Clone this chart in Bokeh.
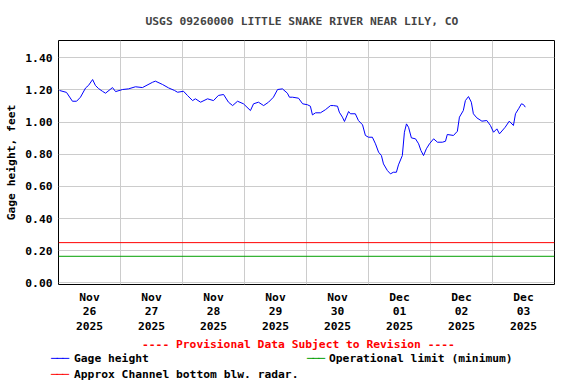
import pandas as pd
from bokeh.plotting import figure
from bokeh.layouts import column
from bokeh.models import (Range1d, FixedTicker, NumeralTickFormatter, DatetimeTickFormatter, Div)
from bokeh.embed import file_html
from bokeh.resources import INLINE

# ---- data ----
title_text = "USGS 09260000 LITTLE SNAKE RIVER NEAR LILY, CO"
start_time = "2025-11-26 00:00"
end_time = "2025-12-04 00:00"
hours = [0.4, 3.1, 5.4, 7.0, 8.5, 10.5, 11.6, 13.2, 14.3, 15.5, 17.0, 18.2, 20.9, 22.1,
         24.8, 27.1, 29.8, 32.5, 36.4, 37.5, 40.3, 42.6, 44.9, 46.1, 48.4, 49.9, 51.9,
         53.0, 55.0, 57.7, 60.0, 61.9, 63.9, 65.8, 67.4, 69.3, 71.6, 74.3, 75.5, 77.4,
         79.4, 81.3, 83.2, 84.8, 86.7, 88.6, 89.4, 90.6, 92.9, 94.5, 96.4, 97.5, 98.3,
         99.5, 101.4, 103.3, 105.3, 106.4, 108.0, 108.7, 109.9, 110.7, 112.3, 113.0,
         114.9, 116.1, 117.7, 118.8, 120.0, 121.5, 122.7, 123.9, 125.0, 125.8, 127.3,
         128.5, 129.6, 130.8, 131.6, 133.1, 133.9, 134.7, 135.5, 136.6, 138.2, 139.4,
         140.3, 141.3, 142.4, 143.6, 145.2, 146.7, 148.6, 149.8, 150.5, 152.9, 154.4,
         155.2, 156.7, 157.5, 158.7, 159.8, 160.6, 161.9, 163.9, 165.8, 167.2, 168.4,
         169.7, 170.7, 172.9, 174.5, 176.1, 176.9, 178.1, 179.2, 180.0, 180.7]
gage_height = [1.197, 1.185, 1.13, 1.13, 1.155, 1.213, 1.228, 1.265, 1.228, 1.209, 1.192,
               1.18, 1.215, 1.19, 1.203, 1.207, 1.22, 1.215, 1.248, 1.255, 1.234, 1.213,
               1.197, 1.186, 1.192, 1.166, 1.134, 1.145, 1.124, 1.145, 1.134, 1.166, 1.172,
               1.124, 1.103, 1.13, 1.114, 1.072, 1.114, 1.124, 1.103, 1.124, 1.155, 1.203,
               1.207, 1.18, 1.155, 1.155, 1.149, 1.114, 1.108, 1.099, 1.045, 1.058, 1.058,
               1.077, 1.103, 1.103, 1.099, 1.062, 1.031, 1.004, 1.066, 1.052, 1.052, 1.01,
               0.983, 0.917, 0.906, 0.906, 0.865, 0.813, 0.792, 0.74, 0.699, 0.678, 0.688,
               0.688, 0.734, 0.792, 0.937, 0.989, 0.968, 0.902, 0.896, 0.865, 0.823, 0.792,
               0.834, 0.865, 0.896, 0.875, 0.875, 0.881, 0.923, 0.917, 0.943, 1.031, 1.072,
               1.134, 1.159, 1.124, 1.052, 1.027, 1.006, 1.01, 0.979, 0.937, 0.958, 0.927,
               0.968, 1.006, 0.979, 1.052, 1.083, 1.114, 1.109, 1.093]
operational_limit = 0.165
channel_bottom = 0.25
y_ticks = [0.0, 0.2, 0.4, 0.6, 0.8, 1.0, 1.2, 1.4]
label_days = ["2025-11-26 12:00", "2025-11-27 12:00", "2025-11-28 12:00", "2025-11-29 12:00",
              "2025-11-30 12:00", "2025-12-01 12:00", "2025-12-02 12:00", "2025-12-03 12:00"]
grid_days = ["2025-11-27", "2025-11-28", "2025-11-29", "2025-11-30",
             "2025-12-01", "2025-12-02", "2025-12-03"]
series_names = ["Gage height", "Operational limit (minimum)", "Approx Channel bottom blw. radar."]
series_colors = ["#0000ff", "#00a000", "#ff0000"]
provisional_text = "---- Provisional Data Subject to Revision ----"

FONT = "DejaVu Sans Mono"
FS = "11.3px"

t0 = pd.Timestamp(start_time)
t1 = pd.Timestamp(end_time)
times = [t0 + pd.Timedelta(hours=h) for h in hours]

def ms(s):
    return pd.Timestamp(s).value / 1e6

p = figure(frame_width=496, frame_height=244, x_axis_type="datetime", output_backend="svg",
           toolbar_location=None, min_border_left=58, min_border_right=22,
           min_border_top=40, min_border_bottom=52,
           x_range=Range1d(t0, t1), y_range=Range1d(-0.0106, 1.508))
p.background_fill_color = "white"
p.border_fill_color = "white"
p.outline_line_color = "black"
p.outline_line_width = 1

p.title.text = title_text
p.title.align = "left"
p.title.offset = 87
p.title.text_font = FONT
p.title.text_font_size = FS
p.title.text_font_style = "bold"
p.title.standoff = 25

# axes
for ax in (p.xaxis[0], p.yaxis[0]):
    ax.axis_line_color = None
    ax.major_tick_line_color = None
    ax.minor_tick_line_color = None
    ax.major_label_text_font = FONT
    ax.major_label_text_font_size = FS
    ax.major_label_text_font_style = "bold"
    ax.major_label_text_color = "black"

p.yaxis.ticker = FixedTicker(ticks=y_ticks)
p.yaxis.formatter = NumeralTickFormatter(format="0.00")
p.yaxis.major_label_standoff = 0
p.yaxis.axis_label = "Gage height, feet"
p.yaxis.axis_label_text_font = FONT
p.yaxis.axis_label_text_font_size = FS
p.yaxis.axis_label_text_font_style = "bold"
p.yaxis.axis_label_text_color = "black"
p.yaxis.axis_label_standoff = 4

p.xaxis.ticker = FixedTicker(ticks=[ms(s) for s in label_days])
p.xaxis.formatter = DatetimeTickFormatter(days="%b\n%d\n%Y", hours="%b\n%d\n%Y",
                                          months="%b\n%d\n%Y")
p.xaxis.major_label_standoff = 0
p.xaxis.major_label_text_line_height = 1.13

p.xgrid.ticker = FixedTicker(ticks=[ms(s) for s in grid_days])
p.xgrid.grid_line_color = "#cccccc"
p.ygrid.grid_line_color = "#cccccc"

p.line(times, gage_height, line_color=series_colors[0], line_width=1)
p.line([t0, t1], [operational_limit, operational_limit], line_color=series_colors[1], line_width=1)
p.line([t0, t1], [channel_bottom, channel_bottom], line_color=series_colors[2], line_width=1)

# provisional note and legend, laid out as a strip under the chart
def swatch(left, top, color):
    return (f'<span style="position:absolute;left:{left}px;top:{top}px;color:{color};'
            f'font-weight:normal;letter-spacing:-1.2px;white-space:pre;">\u2500\u2500\u2500</span>')

def text(left, top, s, color="#000000"):
    return (f'<span style="position:absolute;left:{left}px;top:{top}px;color:{color};'
            f'white-space:pre;">{s}</span>')

legend_html = (
    f'<div style="position:relative;width:576px;height:48px;font-family:\'{FONT}\';'
    f'font-weight:bold;font-size:{FS};line-height:13px;">'
    + text(142, 2, provisional_text, series_colors[2])
    + swatch(51, 16, series_colors[0]) + text(74, 16, series_names[0])
    + swatch(307, 16, series_colors[1]) + text(329, 16, series_names[1])
    + swatch(51, 32, series_colors[2]) + text(74, 32, series_names[2])
    + '</div>'
)
legend_div = Div(text=legend_html, width=576, height=48, margin=0)

layout = column(p, legend_div, spacing=0)
open("out.html", "w").write(file_html(layout, INLINE))
